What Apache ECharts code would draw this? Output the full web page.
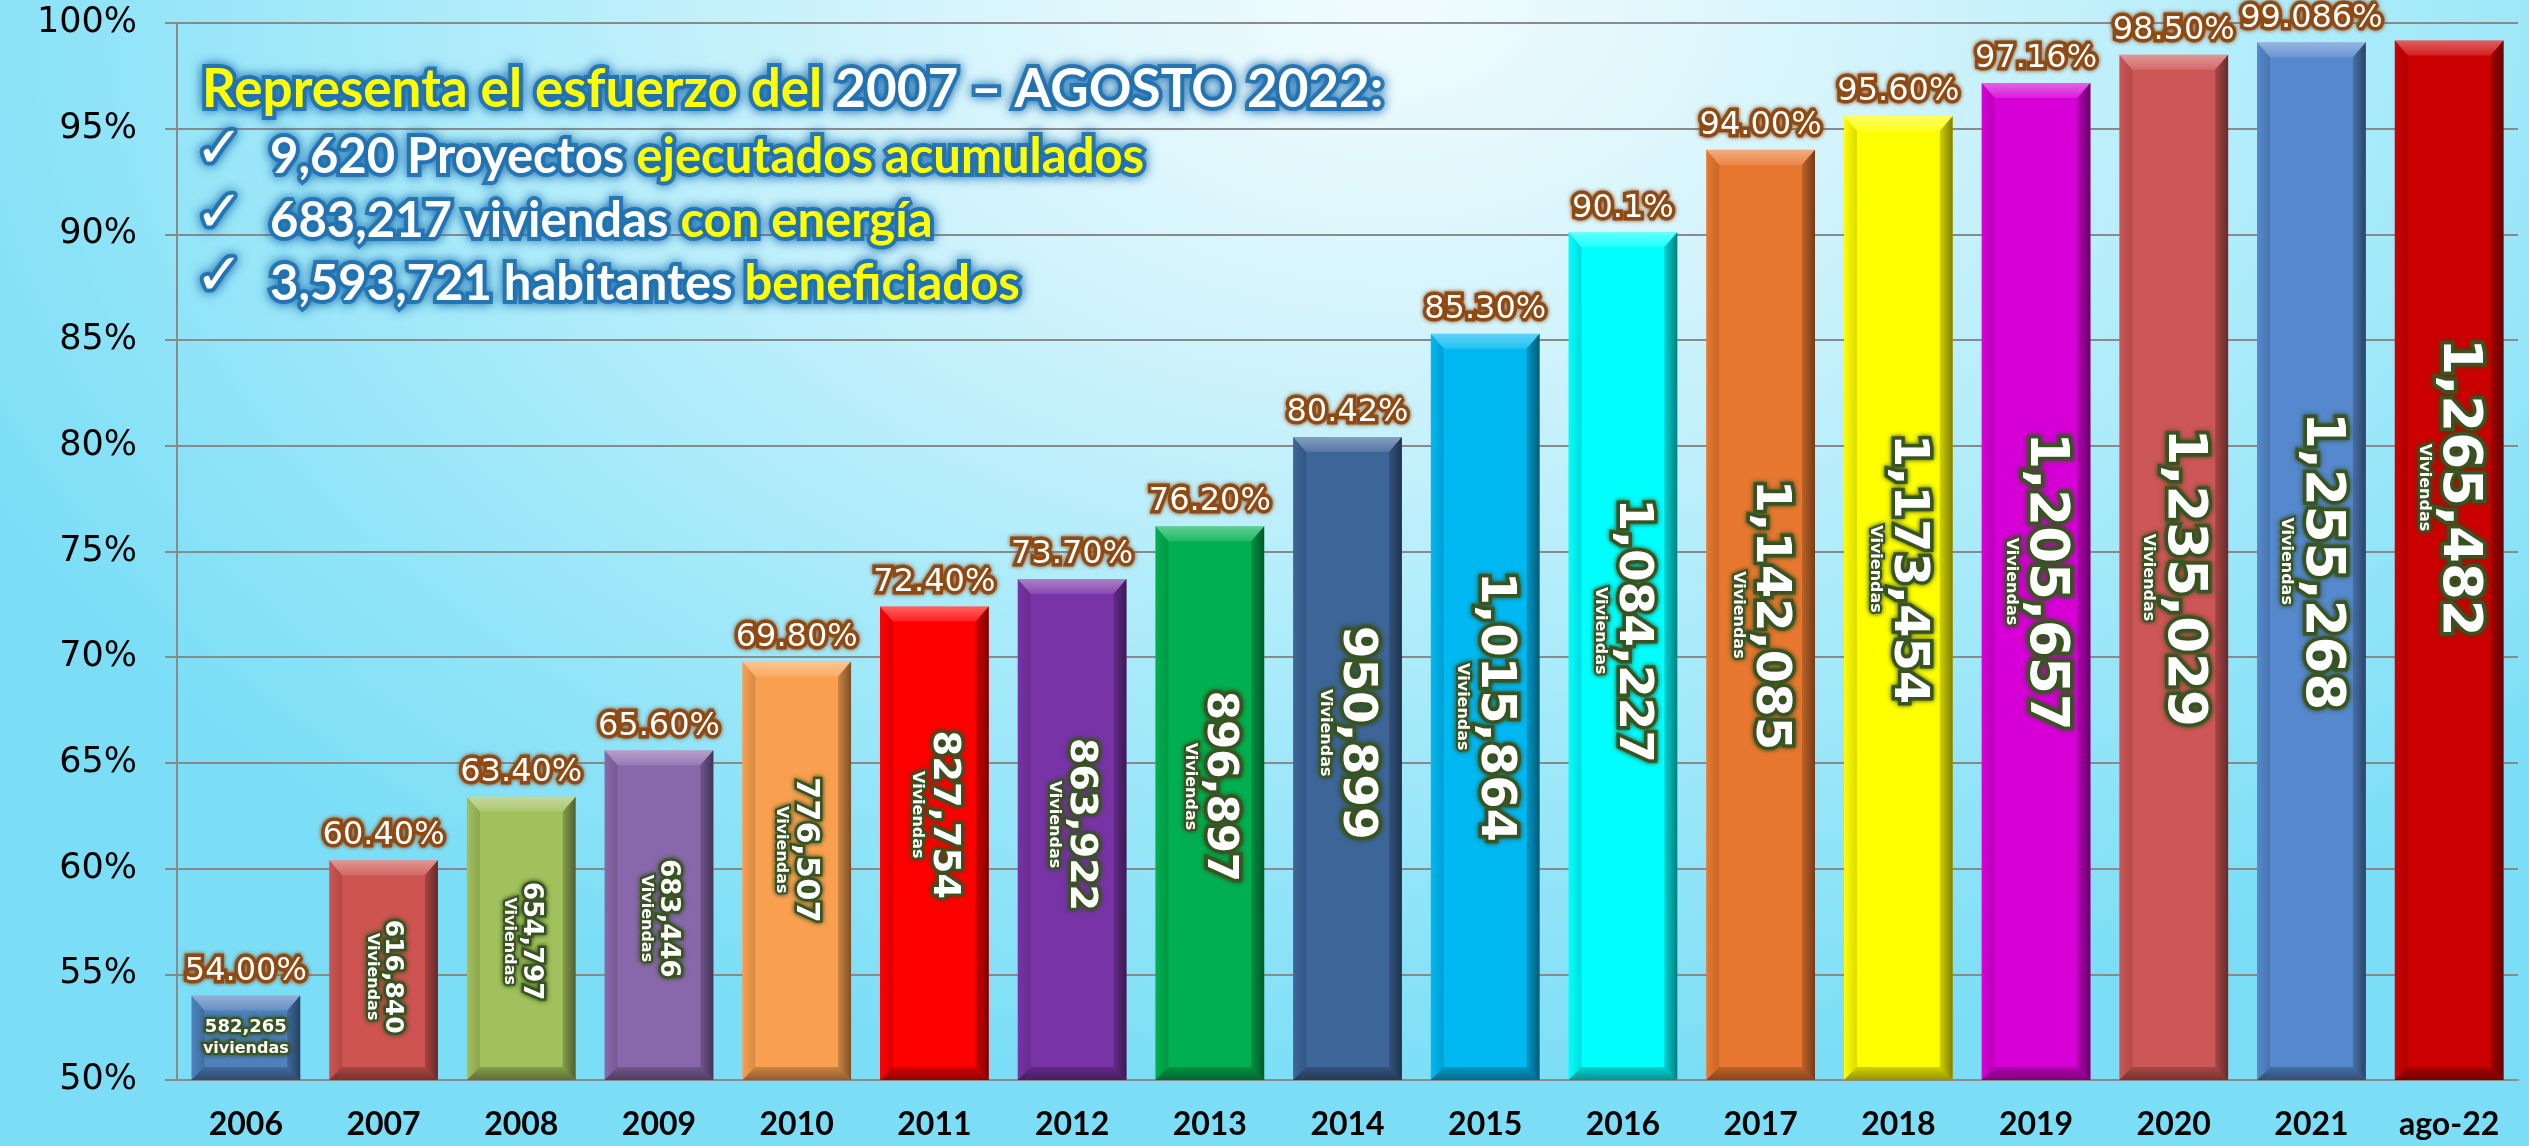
<!DOCTYPE html>
<html>
<head>
<meta charset="utf-8">
<title>Viviendas con energía 2006 - ago 2022</title>
<script src="https://cdn.jsdelivr.net/npm/echarts/dist/echarts.min.js"></script>
<style>
html, body { margin: 0; padding: 0; overflow: hidden; }
body {
  width: 2529px; height: 1146px;
  background: radial-gradient(ellipse 62% 95% at 55% 0%, #f2fcfe 0%, #d4f4fc 30%, #a6eafa 65%, #7cdef6 100%);
}
#main { width: 2529px; height: 1146px; }
</style>
</head>
<body>
<div id="main"></div>
<script>
// datos
var anios = ['2006', '2007', '2008', '2009', '2010', '2011', '2012', '2013', '2014', '2015', '2016', '2017', '2018', '2019', '2020', '2021', 'ago-22'];
var avance = [54.00, 60.40, 63.40, 65.60, 69.80, 72.40, 73.70, 76.20, 80.42, 85.30, 90.1, 94.00, 95.60, 97.16, 98.50, 99.086, 99.17];
var avanceTxt = ['54.00%', '60.40%', '63.40%', '65.60%', '69.80%', '72.40%', '73.70%', '76.20%', '80.42%', '85.30%', '90.1%', '94.00%', '95.60%', '97.16%', '98.50%', '99.086%', ''];
var viviendas = [582265, 616840, 654797, 683446, 776507, 827754, 863922, 896897, 950899, 1015864, 1084227, 1142085, 1173454, 1205657, 1235029, 1255268, 1265482];
var ejeMin = 50, ejeMax = 100, ejePaso = 5;

// estilo de cada barra
var colores = ['#4f81bd', '#cd5450', '#a2c05c', '#8868aa', '#f9a050', '#ff0000', '#7833a6', '#00b050', '#3d6598',
               '#00b8f2', '#00ffff', '#e87830', '#ffff00', '#d600d6', '#cd5656', '#5588cc', '#cc0000'];
var tamNum = [18, 25, 26, 26, 32, 37, 38, 42, 47, 48, 47, 48, 48, 53, 53, 53, 53];
var posNum = ['50%', '53%', '51%', '51%', '45%', '44%', '49%', '47%', '46%', '50%', '47%', '50%', '47%', '50%', '51%', '50%', '43%'];
var anchoBarra = 0.79;

var G = echarts.graphic;
function grad(x2, y2, a, b) {
  return new G.LinearGradient(0, 0, x2, y2, [{ offset: 0, color: a }, { offset: 1, color: b }]);
}

// barra con bisel dibujada sobre las escalas del grafico
function barraBisel(params, api) {
  var i = params.dataIndex;
  var arriba = api.coord([api.value(0), api.value(1)]);
  var abajo = api.coord([api.value(0), ejeMin]);
  var w = api.size([1, 0])[0] * anchoBarra;
  var x0 = arriba[0] - w / 2, x1 = arriba[0] + w / 2, y0 = arriba[1], y1 = abajo[1];
  var b = 13, bt = 15;
  return {
    type: 'group',
    children: [
      { type: 'rect', shape: { x: x0, y: y0, width: w, height: y1 - y0 }, style: { fill: colores[i] } },
      { type: 'polygon', shape: { points: [[x0, y0], [x1, y0], [x1 - b, y0 + bt], [x0 + b, y0 + bt]] },
        style: { fill: grad(0, 1, 'rgba(255,255,255,0.38)', 'rgba(255,255,255,0.12)') } },
      { type: 'polygon', shape: { points: [[x1, y0], [x1, y1], [x1 - b, y1 - b], [x1 - b, y0 + bt]] },
        style: { fill: grad(1, 0, 'rgba(0,0,0,0.18)', 'rgba(0,0,0,0.5)') } },
      { type: 'polygon', shape: { points: [[x0, y1], [x1, y1], [x1 - b, y1 - b], [x0 + b, y1 - b]] },
        style: { fill: grad(0, 1, 'rgba(0,0,0,0.18)', 'rgba(0,0,0,0.42)') } },
      { type: 'polygon', shape: { points: [[x0, y0], [x0 + b, y0 + bt], [x0 + b, y1 - b], [x0, y1]] },
        style: { fill: grad(1, 0, 'rgba(0,0,0,0.0)', 'rgba(0,0,0,0.14)') } }
    ]
  };
}

var verde = { color: '#fff', fontFamily: 'DejaVu Sans', fontWeight: 'bold',
  textBorderColor: '#3a5622', textShadowColor: '#2e4a1a', textShadowBlur: 5 };

var barras = anios.map(function (a, i) {
  var lbl;
  if (i === 0) {
    lbl = {
      position: 'inside',
      rich: {
        s: Object.assign({}, verde, { fontSize: tamNum[i], lineHeight: 22, textBorderWidth: 4 }),
        t: Object.assign({}, verde, { fontSize: 16, lineHeight: 20, textBorderWidth: 4 })
      }
    };
  } else {
    lbl = {
      position: ['50%', posNum[i]],
      align: 'center',
      verticalAlign: 'middle',
      rotate: -90,
      rich: {
        n: Object.assign({}, verde, { fontSize: tamNum[i], lineHeight: tamNum[i] * 0.95, textBorderWidth: tamNum[i] > 40 ? 7 : 5 }),
        v: Object.assign({}, verde, { fontSize: 16, lineHeight: 18, textBorderWidth: 4 })
      }
    };
  }
  return { value: avance[i], label: lbl };
});

// textos del recuadro (titulos con texto enriquecido)
var brillo = { textBorderColor: 'rgba(32,112,176,0.9)', textBorderWidth: 8,
  textShadowColor: '#1e6fb0', textShadowBlur: 12 };
function linea(left, centro, partes, size) {
  var rich = {};
  var txt = partes.map(function (p, k) {
    rich['p' + k] = Object.assign({ fontFamily: 'Lato', fontWeight: 'bold', fontSize: size, lineHeight: 64, color: p[1] }, brillo);
    return '{p' + k + '|' + p[0] + '}';
  }).join('');
  return { left: left, top: centro - 32, padding: 0, text: txt, textStyle: { rich: rich } };
}
function palomita(centro) {
  return { left: 195, top: centro - 32, padding: 0, text: '\u2713',
    textStyle: Object.assign({ fontFamily: 'DejaVu Sans', fontSize: 58, lineHeight: 64, color: '#fff', fontWeight: 'normal' }, brillo) };
}

var chart = echarts.init(document.getElementById('main'));

chart.setOption({
  animation: false,
  backgroundColor: 'transparent',
  title: [
    linea(202, 90, [['Representa el esfuerzo del ', '#ffff00'], ['2007 \u2013 AGOSTO 2022:', '#ffffff']], 53),
    linea(270, 157, [['9,620 Proyectos ', '#ffffff'], ['ejecutados acumulados', '#ffff00']], 49),
    linea(270, 221, [['683,217 viviendas ', '#ffffff'], ['con energía', '#ffff00']], 49),
    linea(270, 284, [['3,593,721 habitantes ', '#ffffff'], ['beneficiados', '#ffff00']], 49),
    palomita(152), palomita(216), palomita(279)
  ],
  grid: { left: 177, right: 11, top: 23, bottom: 66 },
  xAxis: {
    type: 'category',
    data: anios,
    axisLine: { lineStyle: { color: '#8a8a8a', width: 2 } },
    axisTick: { length: 12, lineStyle: { color: '#8a8a8a', width: 2 } },
    axisLabel: { margin: 29, color: '#000', fontFamily: 'Lato', fontWeight: 'bold', fontSize: 32 }
  },
  yAxis: {
    type: 'value',
    min: ejeMin, max: ejeMax, interval: ejePaso,
    axisLine: { show: true, lineStyle: { color: '#8a8a8a', width: 2 } },
    axisTick: { show: true, length: 12, lineStyle: { color: '#8a8a8a', width: 2 } },
    splitLine: { lineStyle: { color: '#8a8a8a', width: 2 } },
    axisLabel: { margin: 40, color: '#000', fontFamily: 'DejaVu Sans', fontSize: 35, formatter: '{value}%' }
  },
  series: [
    {
      type: 'custom',
      z: 2,
      silent: true,
      renderItem: barraBisel,
      data: avance.map(function (v, i) { return [i, v]; }),
      encode: { x: 0, y: 1 }
    },
    {
      type: 'bar',
      z: 3,
      barWidth: (anchoBarra * 100) + '%',
      data: barras,
      itemStyle: { color: 'rgba(0,0,0,0)' },
      label: {
        show: true,
        formatter: function (p) {
          var s = viviendas[p.dataIndex].toLocaleString('en-US');
          return p.dataIndex === 0 ? '{s|' + s + '}\n{t|viviendas}' : '{n|' + s + '}\n{v|Viviendas}';
        }
      }
    },
    {
      type: 'bar',
      z: 3,
      barWidth: (anchoBarra * 100) + '%',
      barGap: '-100%',
      silent: true,
      data: avance,
      itemStyle: { color: 'rgba(0,0,0,0)' },
      label: {
        show: true,
        position: 'top',
        distance: 8,
        formatter: function (p) { return avanceTxt[p.dataIndex]; },
        color: '#fff',
        fontFamily: 'DejaVu Sans',
        fontSize: 32,
        textBorderColor: '#8f4a14',
        textBorderWidth: 7,
        textShadowColor: '#8f4a14',
        textShadowBlur: 4
      }
    }
  ]
});
</script>
</body>
</html>
